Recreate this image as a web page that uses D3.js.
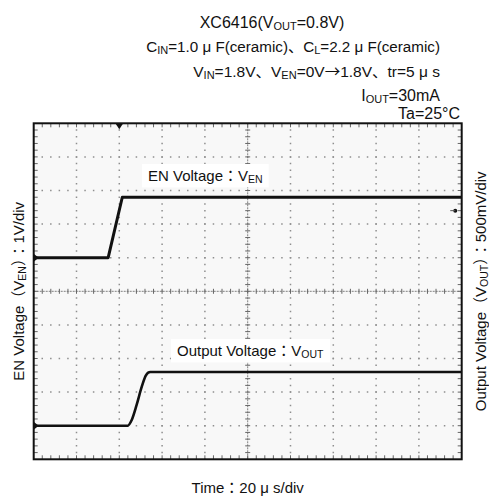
<!DOCTYPE html>
<html>
<head>
<meta charset="utf-8">
<script src="https://cdn.jsdelivr.net/npm/d3@7"></script>
<style>
  html,body{margin:0;padding:0;background:#fff;}
  svg text{font-family:"Liberation Sans",Arial,"Noto Sans CJK JP",sans-serif;fill:#111;}
</style>
</head>
<body>
<svg id="c" width="489" height="497"></svg>
<script>
// ---- data ----
const titleLines = [
  [{t:"XC6416(V"},{t:"OUT",sub:true},{t:"=0.8V)"}],
  [{t:"C"},{t:"IN",sub:true},{t:"=1.0 μ F(ceramic)、C"},{t:"L",sub:true},{t:"=2.2 μ F(ceramic)"}],
  [{t:"V"},{t:"IN",sub:true},{t:"=1.8V、V"},{t:"EN",sub:true},{t:"=0V"},{t:"→",cjk:true},{t:"1.8V、tr=5 μ s"}],
  [{t:"I"},{t:"OUT",sub:true},{t:"=30mA"}],
  [{t:"Ta=25°C"}]
];
const leftLabel  = [{t:"EN Voltage（V"},{t:"EN",sub:true},{t:"）：1V/div"}];
const rightLabel = [{t:"Output Voltage（V"},{t:"OUT",sub:true},{t:"）：500mV/div"}];
const bottomLabel = [{t:"Time：20 μ s/div"}];
const enLabel  = [{t:"EN Voltage：V"},{t:"EN",sub:true}];
const outLabel = [{t:"Output Voltage：V"},{t:"OUT",sub:true}];

// time in µs (20 µs/div), trigger at 0
const timeDomain = [-40, 160];
// EN voltage (1 V/div)
const enTime  = [-40, -5.2, 1.4, 160];
const enVolt  = [0, 0, 1.8, 1.8];
// Output voltage (500 mV/div)
const outTime = [-40, 3.9, 5.8, 8.1, 10.5, 12.3, 13.5, 14.5, 160];
const outVolt = [0, 0, 0.085, 0.31, 0.58, 0.74, 0.79, 0.8, 0.8];
const enDomain  = [-6, 4];
const outDomain = [-0.5, 4.5];
const trigLevel = {t:157, v:1.4};

// ---- layout ----
const svg = d3.select("#c");
const L=33.7, R=461.7, T=123.3, B=459.3;
const x = d3.scaleLinear().domain(timeDomain).range([L,R]);
const yEN = d3.scaleLinear().domain(enDomain).range([B,T]);
const yOUT = d3.scaleLinear().domain(outDomain).range([B,T]);
const divW = (R-L)/10, divH = (B-T)/10;

function richText(g, segs, subSize){
  segs.forEach(s=>{
    const ts = g.append("tspan").text(s.t);
    if(s.sub){ ts.attr("font-size", subSize).attr("baseline-shift","-22%"); }
    if(s.cjk){ ts.style("font-family","'Noto Sans CJK JP'"); }
  });
}

// titles
const titleX = [272, 440, 440, 440, 460];
const titleY = [28, 52, 77, 101, 119];
const titleSize = [16, 15.2, 15.5, 16, 16];
const titleAnchor = ["middle","end","end","end","end"];
titleLines.forEach((segs,i)=>{
  const t = svg.append("text").attr("x",titleX[i]).attr("y",titleY[i])
    .attr("text-anchor",titleAnchor[i]).attr("font-size",titleSize[i]);
  richText(t, segs, 11);
});

// plot background
svg.append("rect").attr("x",L).attr("y",T).attr("width",R-L).attr("height",B-T).attr("fill","#f8f8f8");

const grid = svg.append("g");
// vertical dotted grid lines
d3.range(1,10).forEach(i=>{
  const t = timeDomain[0] + i*20;
  if(i===5) return;
  grid.append("line").attr("x1",x(t)).attr("x2",x(t)).attr("y1",T).attr("y2",B)
    .attr("stroke","#8f8f8f").attr("stroke-width",1.5)
    .attr("stroke-dasharray",`1.5 ${divH/5-1.5}`).attr("stroke-dashoffset",-divH/5+0.75);
});
// horizontal dotted grid lines
d3.range(1,10).forEach(i=>{
  const v = enDomain[0] + i;
  if(i===5) return;
  grid.append("line").attr("x1",L).attr("x2",R).attr("y1",yEN(v)).attr("y2",yEN(v))
    .attr("stroke","#8f8f8f").attr("stroke-width",1.5)
    .attr("stroke-dasharray",`1.5 ${divW/5-1.5}`).attr("stroke-dashoffset",-divW/5+0.75);
});
// center lines with minor ticks
const cx = x(timeDomain[0]+100), cy = yEN(enDomain[0]+5);
grid.append("line").attr("x1",cx).attr("x2",cx).attr("y1",T).attr("y2",B).attr("stroke","#808080").attr("stroke-width",1)
  .attr("stroke-dasharray","2 1");
grid.append("line").attr("x1",L).attr("x2",R).attr("y1",cy).attr("y2",cy).attr("stroke","#808080").attr("stroke-width",1)
  .attr("stroke-dasharray","2 1");
d3.range(1,50).forEach(k=>{
  const xx = L + k*divW/5;
  grid.append("line").attr("x1",xx).attr("x2",xx).attr("y1",cy-2.5).attr("y2",cy+2.5).attr("stroke","#666");
  grid.append("line").attr("x1",xx).attr("x2",xx).attr("y1",T).attr("y2",T+4).attr("stroke","#666");
  grid.append("line").attr("x1",xx).attr("x2",xx).attr("y1",B-4).attr("y2",B).attr("stroke","#666");
  const yy = T + k*divH/5;
  grid.append("line").attr("y1",yy).attr("y2",yy).attr("x1",cx-2.5).attr("x2",cx+2.5).attr("stroke","#666");
  grid.append("line").attr("y1",yy).attr("y2",yy).attr("x1",L).attr("x2",L+4).attr("stroke","#666");
  grid.append("line").attr("y1",yy).attr("y2",yy).attr("x1",R-4).attr("x2",R).attr("stroke","#666");
});

// label boxes + labels
function boxLabel(segs, xx, yy){
  const g = svg.append("g");
  const r = g.append("rect").attr("fill","#fff");
  const t = g.append("text").attr("x",xx).attr("y",yy).attr("font-size",15);
  richText(t, segs, 10.5);
  const bb = t.node().getBBox();
  r.attr("x",bb.x-6).attr("y",bb.y-3).attr("width",bb.width+12).attr("height",bb.height+5);
}
boxLabel(enLabel, 148, 181);
boxLabel(outLabel, 177, 356);

// traces
const enData = enTime.map((t,i)=>[t,enVolt[i]]);
const outData = outTime.map((t,i)=>[t,outVolt[i]]);
svg.append("path").datum(enData)
  .attr("d", d3.line().x(d=>x(d[0])).y(d=>yEN(d[1])))
  .attr("fill","none").attr("stroke","#111").attr("stroke-width",3).attr("stroke-linejoin","round");
svg.append("path").datum(outData)
  .attr("d", d3.line().curve(d3.curveMonotoneX).x(d=>x(d[0])).y(d=>yOUT(d[1])))
  .attr("fill","none").attr("stroke","#111").attr("stroke-width",2.6).attr("stroke-linejoin","round");

// markers
const mk = svg.append("g").attr("fill","#111");
[yEN(0), yOUT(0)].forEach(yy=>{
  mk.append("path").attr("d",`M${L},${yy-4}L${L+5},${yy}L${L},${yy+4}Z`);
});
mk.append("path").attr("d",`M${x(0)-4},${T}L${x(0)+4},${T}L${x(0)},${T+6}Z`);
mk.append("circle").attr("cx",x(trigLevel.t)).attr("cy",yEN(trigLevel.v)).attr("r",2);
mk.append("line").attr("x1",x(trigLevel.t)-5).attr("x2",x(trigLevel.t)).attr("y1",yEN(trigLevel.v)).attr("y2",yEN(trigLevel.v)).attr("stroke","#555");

// border
svg.append("rect").attr("x",L).attr("y",T).attr("width",R-L).attr("height",B-T)
  .attr("fill","none").attr("stroke","#111").attr("stroke-width",2);

// axis labels
const lt = svg.append("text").attr("transform",`translate(24,${(T+B)/2}) rotate(-90)`)
  .attr("text-anchor","middle").attr("font-size",15);
richText(lt, leftLabel, 10.5);
const rt = svg.append("text").attr("transform",`translate(486,${(T+B)/2}) rotate(-90)`)
  .attr("text-anchor","middle").attr("font-size",15);
richText(rt, rightLabel, 10.5);
const bt = svg.append("text").attr("x",(L+R)/2).attr("y",493)
  .attr("text-anchor","middle").attr("font-size",15);
richText(bt, bottomLabel, 10.5);
</script>
</body>
</html>
